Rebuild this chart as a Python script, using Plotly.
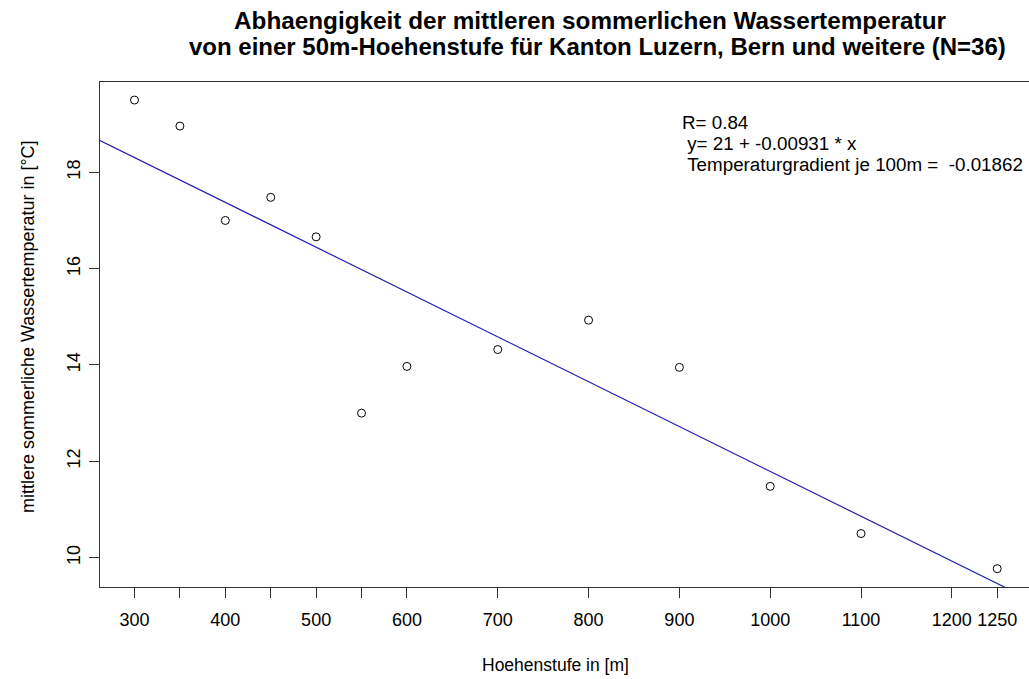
import plotly.graph_objects as go

# Data
hoehe = [300, 350, 400, 450, 500, 550, 600, 700, 800, 900, 1000, 1100, 1250]
temp = [19.5, 18.96, 17.0, 17.48, 16.66, 13.0, 13.97, 14.32, 14.93, 13.95, 11.48, 10.5, 9.77]

intercept = 21.1
slope = -0.00931

x_ticks = [300, 350, 400, 450, 500, 550, 600, 700, 800, 900, 1000, 1100, 1200, 1250]
x_ticktext = ["300", "", "400", "", "500", "", "600", "700", "800", "900", "1000", "1100", "1200", "1250"]
y_ticks = [10, 12, 14, 16, 18]

stats_lines = ["R= 0.84",
               "\u00a0y= 21 + -0.00931 * x",
               "\u00a0Temperaturgradient je 100m =\u00a0\u00a0-0.01862"]

x_range = [262, 1285]
y_range = [9.39, 19.875]

FONT = "Liberation Sans, Arial, sans-serif"

fig = go.Figure()

line_x = list(x_range)
line_y = [intercept + slope * v for v in line_x]
fig.add_trace(go.Scatter(x=line_x, y=line_y, mode="lines",
                         line=dict(color="#2020b0", width=1.2), hoverinfo="skip",
                         showlegend=False))
fig.add_trace(go.Scatter(x=hoehe, y=temp, mode="markers",
                         marker=dict(symbol="circle-open", size=8,
                                     color="black", line=dict(width=1, color="black")),
                         showlegend=False))

fig.update_layout(
    width=1029, height=679,
    margin=dict(l=100, r=0, t=82, b=92),
    paper_bgcolor="white", plot_bgcolor="white",
    font=dict(family=FONT, size=18, color="black"),
    xaxis=dict(range=x_range, tickvals=x_ticks, ticktext=x_ticktext,
               showgrid=False, zeroline=False, showline=True, mirror=True,
               linecolor="#333333", linewidth=1,
               ticks="outside", ticklen=10, tickcolor="#333333",
               tickfont=dict(size=18, family=FONT), ticklabelstandoff=6),
    yaxis=dict(range=y_range, tickvals=y_ticks,
               showgrid=False, zeroline=False, showline=True, mirror=False,
               linecolor="#333333", linewidth=1,
               ticks="outside", ticklen=10, tickcolor="#333333",
               tickangle=-90, tickfont=dict(size=18, family=FONT), ticklabelstandoff=2),
)

def px_x(p):
    return (p - 100) / 929

def px_y(p):
    return (587 - p) / 505

annots = [
    dict(text="<b>Abhaengigkeit der mittleren sommerlichen Wassertemperatur</b>",
         x=px_x(590), y=px_y(21), size=24.3),
    dict(text="<b>von einer 50m-Hoehenstufe für Kanton Luzern, Bern und weitere (N=36)</b>",
         x=px_x(597), y=px_y(47), size=24),
    dict(text="Hoehenstufe in [m]", x=px_x(555), y=px_y(665), size=17.5),
]
for a in annots:
    fig.add_annotation(text=a["text"], x=a["x"], y=a["y"], xref="paper", yref="paper",
                       xanchor="center", yanchor="middle", showarrow=False,
                       font=dict(size=a["size"], family=FONT, color="black"))

fig.add_annotation(text="mittlere sommerliche Wassertemperatur in [°C]",
                   x=px_x(28), y=px_y(327), xref="paper", yref="paper",
                   xanchor="center", yanchor="middle", textangle=-90, showarrow=False,
                   font=dict(size=18, family=FONT, color="black"))

for txt, ypx in zip(stats_lines, [123, 143.5, 164]):
    fig.add_annotation(text=txt, x=px_x(680), y=px_y(ypx), xref="paper", yref="paper",
                       xanchor="left", yanchor="middle", align="left", showarrow=False,
                       font=dict(size=18.8, family=FONT, color="black"))

fig.write_html("out.html")
